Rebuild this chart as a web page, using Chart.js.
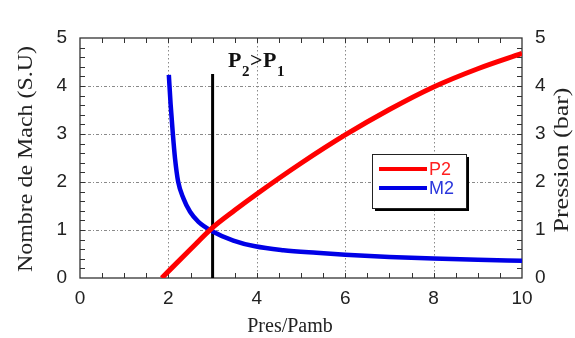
<!DOCTYPE html>
<html>
<head>
<meta charset="utf-8">
<script src="https://cdn.jsdelivr.net/npm/chart.js@4.4.1/dist/chart.umd.min.js"></script>
<style>
  html, body { margin: 0; padding: 0; background: #ffffff; }
  #wrap { width: 575px; height: 338px; }
</style>
</head>
<body>
<div id="wrap"><canvas id="chart" width="575" height="338"></canvas></div>
<script>
// values
var xTicks = [0, 2, 4, 6, 8, 10];
var yTicks = [0, 1, 2, 3, 4, 5];

var m2X = [2.01, 2.05, 2.10, 2.15, 2.22, 2.34, 2.49, 2.68, 3.0, 3.47, 3.96, 4.6, 5.35, 6, 7, 8, 9, 10];
var m2Y = [4.23, 3.62, 3.01, 2.49, 2.01, 1.66, 1.38, 1.17, 0.97, 0.78, 0.66, 0.58, 0.525, 0.485, 0.44, 0.405, 0.38, 0.36];

var p2X = [1.85, 2.5, 3, 3.5, 4, 5, 6, 7, 8, 9, 10];
var p2Y = [0, 0.6, 1.05, 1.41, 1.75, 2.39, 2.98, 3.51, 3.98, 4.36, 4.68];

var markX = [3, 3];
var markY = [0, 4.25];

function pts(xs, ys) {
  return xs.map(function (x, i) { return { x: x, y: ys[i] }; });
}

var serif = "'Liberation Serif', 'Times New Roman', serif";
var sans = "'Liberation Sans', Arial, sans-serif";

// frame, dotted grid and inner minor ticks
var framePlugin = {
  id: "frame",
  beforeDatasetsDraw: function (chart) {
    var ctx = chart.ctx, a = chart.chartArea;
    var xs = chart.scales.x, ys = chart.scales.y;
    ctx.save();
    ctx.strokeStyle = "#8a8a8a";
    ctx.lineWidth = 1;
    ctx.setLineDash([1.5, 2.5]);
    [2, 4, 6, 8].forEach(function (v) {
      var px = Math.round(xs.getPixelForValue(v)) + 0.5;
      ctx.beginPath(); ctx.moveTo(px, a.top); ctx.lineTo(px, a.bottom); ctx.stroke();
    });
    ctx.setLineDash([3, 2, 1, 2]);
    [1, 2, 3, 4].forEach(function (v) {
      var py = Math.round(ys.getPixelForValue(v)) + 0.5;
      ctx.beginPath(); ctx.moveTo(a.left, py); ctx.lineTo(a.right, py); ctx.stroke();
    });
    ctx.setLineDash([]);
    ctx.strokeStyle = "#333";
    ctx.lineWidth = 1;
    var t = 5, v;
    for (v = 0.5; v < 10; v += 0.5) {
      var px = Math.round(xs.getPixelForValue(v)) + 0.5;
      ctx.beginPath();
      ctx.moveTo(px, a.bottom); ctx.lineTo(px, a.bottom - t);
      ctx.moveTo(px, a.top); ctx.lineTo(px, a.top + t);
      ctx.stroke();
    }
    for (v = 0.2; v < 5; v += 0.2) {
      var py = Math.round(ys.getPixelForValue(v)) + 0.5;
      ctx.beginPath();
      ctx.moveTo(a.left, py); ctx.lineTo(a.left + t, py);
      ctx.moveTo(a.right, py); ctx.lineTo(a.right - t, py);
      ctx.stroke();
    }
    ctx.lineWidth = 1.3;
    ctx.strokeRect(a.left, a.top, a.right - a.left, a.bottom - a.top);
    ctx.restore();
  },
  afterDraw: function (chart) {
    var ctx = chart.ctx;
    var xs = chart.scales.x, ys = chart.scales.y;
    ctx.save();
    ctx.fillStyle = "#222";
    ctx.textAlign = "center";
    ctx.textBaseline = "middle";

    // axis titles (the source image is a bit stretched vertically)
    function vtext(str, cx, cy, len) {
      ctx.save();
      ctx.font = "20px " + serif;
      var w = ctx.measureText(str).width;
      ctx.translate(cx, cy);
      ctx.rotate(-Math.PI / 2);
      ctx.scale(len / w, 1);
      ctx.fillText(str, 0, 0);
      ctx.restore();
    }
    vtext("Nombre de Mach (S.U)", 27, 159, 226);
    vtext("Pression (bar)", 563, 160, 145);

    ctx.font = "20px " + serif;
    ctx.textBaseline = "alphabetic";
    ctx.fillText("Pres/Pamb", 290, 332);

    // P2>P1 note
    var nx = xs.getPixelForValue(3.35), ny = ys.getPixelForValue(4.4);
    ctx.textAlign = "left";
    ctx.fillStyle = "#111";
    var big = "bold 22px " + serif, small = "bold 15px " + serif;
    var parts = [["P", big, 0], ["2", small, 9], [">", big, 0], ["P", big, 0], ["1", small, 9]];
    parts.forEach(function (p) {
      ctx.font = p[1];
      ctx.fillText(p[0], nx, ny + p[2]);
      nx += ctx.measureText(p[0]).width + 0.5;
    });

    // legend box with drop shadow
    var bx = 372, by = 154, bw = 94, bh = 54;
    ctx.fillStyle = "#000";
    ctx.fillRect(bx + 3, by + 3, bw, bh);
    ctx.fillStyle = "#fff";
    ctx.fillRect(bx, by, bw, bh);
    ctx.strokeStyle = "#222";
    ctx.lineWidth = 1;
    ctx.strokeRect(bx + 0.5, by + 0.5, bw, bh);
    var items = chart.data.datasets.filter(function (d) { return d.label; });
    items.forEach(function (d, i) {
      var ly = by + 15 + i * 19;
      ctx.strokeStyle = d.borderColor;
      ctx.lineWidth = 4;
      ctx.beginPath(); ctx.moveTo(bx + 7, ly); ctx.lineTo(bx + 55, ly); ctx.stroke();
      ctx.fillStyle = d.textColor;
      ctx.font = "18px " + sans;
      ctx.textBaseline = "middle";
      ctx.fillText(d.label, bx + 57, ly + 1);
    });
    ctx.restore();
  }
};

var tickFont = { family: sans, size: 19 };

new Chart(document.getElementById("chart"), {
  type: "scatter",
  data: {
    datasets: [
      { label: "P2", data: pts(p2X, p2Y), yAxisID: "y2", showLine: true, borderColor: "#ff0000", textColor: "#ff2020",
        borderWidth: 5, pointRadius: 0, cubicInterpolationMode: "monotone" },
      { label: "M2", data: pts(m2X, m2Y), yAxisID: "y", showLine: true, borderColor: "#0000e6", textColor: "#2a36dc",
        borderWidth: 4.5, pointRadius: 0, cubicInterpolationMode: "monotone" },
      { label: "", data: pts(markX, markY), yAxisID: "y", showLine: true, borderColor: "#000",
        borderWidth: 3, pointRadius: 0 }
    ]
  },
  options: {
    responsive: false,
    animation: false,
    layout: { padding: { top: 38, left: 0, right: 0, bottom: 0 } },
    plugins: { legend: { display: false }, tooltip: { enabled: false } },
    scales: {
      x: {
        type: "linear", min: 0, max: 10,
        afterBuildTicks: function (s) { s.ticks = xTicks.map(function (v) { return { value: v }; }); },
        afterFit: function (s) { s.height = 60; },
        grid: { display: false, drawTicks: false },
        border: { display: false },
        ticks: { font: tickFont, color: "#222", padding: 9 }
      },
      y: {
        type: "linear", position: "left", min: 0, max: 5,
        afterBuildTicks: function (s) { s.ticks = yTicks.map(function (v) { return { value: v }; }); },
        afterFit: function (s) { s.width = 80; },
        grid: { display: false, drawTicks: false },
        border: { display: false },
        ticks: { font: tickFont, color: "#222", padding: 13 }
      },
      y2: {
        type: "linear", position: "right", min: 0, max: 5,
        afterBuildTicks: function (s) { s.ticks = yTicks.map(function (v) { return { value: v }; }); },
        afterFit: function (s) { s.width = 53; },
        grid: { display: false, drawTicks: false },
        border: { display: false },
        ticks: { font: tickFont, color: "#222", padding: 13 }
      }
    }
  },
  plugins: [framePlugin]
});
</script>
</body>
</html>
